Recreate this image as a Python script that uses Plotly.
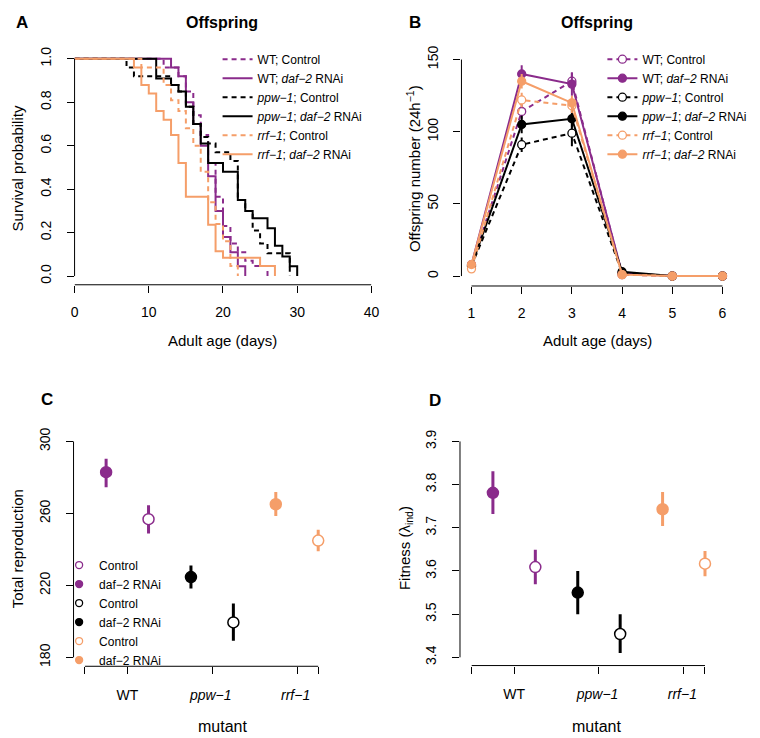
import plotly.graph_objects as go

W, H = 760, 738

# ---------------- Panel A: Kaplan-Meier survival (adult age in days, survival probability)
wt_ctrl_t = [0, 12, 14, 15, 16, 17, 18, 19, 20, 21, 22, 23, 24, 26]
wt_ctrl_s = [1.0, 0.96, 0.92, 0.85, 0.74, 0.65, 0.52, 0.365, 0.23, 0.15, 0.11, 0.07, 0.046, 0.0]
wt_daf_t = [0, 13, 14, 15, 16, 17, 18, 19, 20, 21, 22, 23]
wt_daf_s = [1.0, 0.96, 0.92, 0.80, 0.70, 0.60, 0.46, 0.30, 0.18, 0.11, 0.045, 0.0]
ppw_ctrl_t = [0, 7, 8, 13, 14, 15, 16, 17, 18, 19, 21, 22, 23, 24, 25, 26, 29]
ppw_ctrl_s = [1.0, 0.96, 0.92, 0.88, 0.85, 0.78, 0.70, 0.64, 0.61, 0.57, 0.53, 0.35, 0.30, 0.21, 0.15, 0.105, 0.0]
ppw_daf_t = [0, 11, 13, 14, 15, 16, 17, 18, 20, 22, 23, 24, 26, 27, 28, 29, 30]
ppw_daf_s = [1.0, 0.91, 0.88, 0.85, 0.78, 0.70, 0.61, 0.52, 0.48, 0.35, 0.30, 0.266, 0.22, 0.14, 0.09, 0.045, 0.0]
rrf_ctrl_t = [0, 9, 12, 13, 14, 15, 16, 17, 18, 19, 20, 21, 22]
rrf_ctrl_s = [1.0, 0.96, 0.88, 0.81, 0.76, 0.68, 0.60, 0.48, 0.34, 0.24, 0.16, 0.046, 0.0]
rrf_daf_t = [0, 8, 9, 10, 11, 12, 13, 14, 15, 18, 19, 20, 25, 27]
rrf_daf_s = [1.0, 0.96, 0.88, 0.84, 0.76, 0.72, 0.65, 0.52, 0.365, 0.236, 0.114, 0.084, 0.046, 0.0]

# ---------------- Panel B: offspring per day
days = [1, 2, 3, 4, 5, 6]
off_wt_ctrl = [7, 114, 135, 1, 0, 0]
off_wt_daf = [8, 140, 133, 2, 0, 0]
off_ppw_ctrl = [7, 91, 99, 2, 0, 0]
off_ppw_daf = [7, 105, 109, 3, 0, 0]
off_rrf_ctrl = [5, 122, 118, 1, 0, 0]
off_rrf_daf = [8, 135, 120, 1, 0, 0]
se_wt_ctrl = [1, 5, 6, 0.5, 0, 0]
se_wt_daf = [1, 6, 8, 0.5, 0, 0]
se_ppw_ctrl = [1, 5, 9, 0.5, 0, 0]
se_ppw_daf = [1, 6, 6, 0.5, 0, 0]
se_rrf_ctrl = [1, 5, 5, 0.5, 0, 0]
se_rrf_daf = [1, 5, 5, 0.5, 0, 0]

# ---------------- Panels C & D: totals per genotype
genotypes = ["WT", "<i>ppw−1</i>\u2009", "<i>rrf−1</i>\u2009"]
repro_daf = [282.9, 224.6, 265.1]
repro_daf_lo = [274.6, 218.2, 258.6]
repro_daf_hi = [290.4, 231.1, 271.9]
repro_ctrl = [256.8, 199.4, 244.9]
repro_ctrl_lo = [248.9, 189.2, 239.0]
repro_ctrl_hi = [264.5, 209.9, 250.9]
fit_daf = [3.781, 3.550, 3.743]
fit_daf_lo = [3.732, 3.500, 3.704]
fit_daf_hi = [3.831, 3.600, 3.783]
fit_ctrl = [3.609, 3.454, 3.617]
fit_ctrl_lo = [3.569, 3.410, 3.588]
fit_ctrl_hi = [3.649, 3.500, 3.646]

# tick values
a_xticks = [0, 10, 20, 30, 40]
a_yticks = [0, 0.2, 0.4, 0.6, 0.8, 1.0]
b_xticks = [1, 2, 3, 4, 5, 6]
b_yticks = [0, 50, 100, 150]
cd_xticks = [1, 2, 3]
cd_xends = [0.5, 3.25]
c_yticks = [180, 220, 260, 300]
d_yticks = [3.4, 3.5, 3.6, 3.7, 3.8, 3.9]

PURPLE = "#8A2B8B"
ORANGE = "#F59E69"
BLACK = "#000000"
COLORS = [PURPLE, BLACK, ORANGE]
FONT = "Liberation Sans, Arial, Helvetica, sans-serif"
DASH = "5px,4px"


def xdom(v0, p0, v1, p1, lo, hi):
    s = (p1 - p0) / (v1 - v0)
    return [(p0 + (lo - v0) * s) / W, (p0 + (hi - v0) * s) / W]


def ydom(v0, p0, v1, p1, lo, hi):
    s = (p1 - p0) / (v1 - v0)
    return [1 - (p0 + (lo - v0) * s) / H, 1 - (p0 + (hi - v0) * s) / H]


fig = go.Figure()

# ---- Panel A traces
surv = [
    ("WT; Control", wt_ctrl_t, wt_ctrl_s, PURPLE, DASH),
    ("WT; <i>daf−2</i> RNAi", wt_daf_t, wt_daf_s, PURPLE, "solid"),
    ("<i>ppw−1</i>; Control", ppw_ctrl_t, ppw_ctrl_s, BLACK, DASH),
    ("<i>ppw−1</i>; <i>daf−2</i> RNAi", ppw_daf_t, ppw_daf_s, BLACK, "solid"),
    ("<i>rrf−1</i>; Control", rrf_ctrl_t, rrf_ctrl_s, ORANGE, DASH),
    ("<i>rrf−1</i>; <i>daf−2</i> RNAi", rrf_daf_t, rrf_daf_s, ORANGE, "solid"),
]
for name, t, s, c, d in surv:
    fig.add_trace(go.Scatter(x=t, y=s, mode="lines", name=name, line=dict(color=c, width=2, dash=d, shape="hv"),
                             xaxis="x", yaxis="y", legend="legend"))

# ---- Panel B traces
offs = [
    ("WT; Control", off_wt_ctrl, se_wt_ctrl, PURPLE, DASH, False),
    ("WT; <i>daf−2</i> RNAi", off_wt_daf, se_wt_daf, PURPLE, "solid", True),
    ("<i>ppw−1</i>; Control", off_ppw_ctrl, se_ppw_ctrl, BLACK, DASH, False),
    ("<i>ppw−1</i>; <i>daf−2</i> RNAi", off_ppw_daf, se_ppw_daf, BLACK, "solid", True),
    ("<i>rrf−1</i>; Control", off_rrf_ctrl, se_rrf_ctrl, ORANGE, DASH, False),
    ("<i>rrf−1</i>; <i>daf−2</i> RNAi", off_rrf_daf, se_rrf_daf, ORANGE, "solid", True),
]
for name, y, se, c, d, filled in offs:
    fig.add_trace(go.Scatter(
        x=days, y=y, mode="lines+markers", name=name,
        line=dict(color=c, width=2, dash=d),
        marker=dict(size=8, color=c if filled else "white", line=dict(color=c, width=1.3)),
        error_y=dict(type="data", array=se, color=c, thickness=2, width=0),
        xaxis="x2", yaxis="y2", legend="legend2", cliponaxis=False))


# ---- Panels C & D traces
def dodge(i, treat):
    return i + 1 + (-0.25 if treat == "daf" else 0.25)


for (xa, ya), series in [
    (("x3", "y3"), [("daf", repro_daf, repro_daf_lo, repro_daf_hi), ("ctrl", repro_ctrl, repro_ctrl_lo, repro_ctrl_hi)]),
    (("x4", "y4"), [("daf", fit_daf, fit_daf_lo, fit_daf_hi), ("ctrl", fit_ctrl, fit_ctrl_lo, fit_ctrl_hi)]),
]:
    for i, c in enumerate(COLORS):
        for treat, m, lo, hi in series:
            fig.add_trace(go.Scatter(
                x=[dodge(i, treat)], y=[m[i]], mode="markers", showlegend=False,
                marker=dict(size=11, color=c if treat == "daf" else "white", line=dict(color=c, width=1.5)),
                error_y=dict(type="data", symmetric=False, array=[hi[i] - m[i]], arrayminus=[m[i] - lo[i]],
                             color=c, thickness=3, width=0),
                xaxis=xa, yaxis=ya, cliponaxis=False))

# legend entries for panel C
for c in COLORS:
    for treat, label in [("ctrl", "Control"), ("daf", "daf−2 RNAi")]:
        fig.add_trace(go.Scatter(
            x=[None], y=[None], mode="markers", name=label, legend="legend3",
            marker=dict(size=7, color=c if treat == "daf" else "white", line=dict(color=c, width=1.3)),
            xaxis="x3", yaxis="y3"))

axis_common = dict(showgrid=False, zeroline=False, showline=False, ticks="outside", ticklen=7,
                   tickwidth=1, tickcolor="black", tickfont=dict(size=14, family=FONT, color="black"))
minor_ends = dict(tickvals=cd_xends, ticks="outside", ticklen=7, tickwidth=1, tickcolor="black", showgrid=False)
XSO, YSO = 7, 10

fig.update_layout(
    width=W, height=H, margin=dict(l=0, r=0, t=0, b=0),
    paper_bgcolor="white", plot_bgcolor="white",
    font=dict(family=FONT, size=14, color="black"),
    xaxis=dict(domain=xdom(0, 71.7, 40, 373.3, 0, 40), range=[0, 40], anchor="y",
               tickvals=a_xticks, ticklabelstandoff=XSO, **axis_common),
    yaxis=dict(domain=ydom(0, 273.3, 1, 54.3, -0.04, 1.04), range=[-0.04, 1.04], anchor="x",
               tickvals=a_yticks, tickformat=".1f", tickangle=-90, ticklabelstandoff=YSO, **axis_common),
    xaxis2=dict(domain=xdom(1, 475, 6, 730, 0.8, 6.2), range=[0.8, 6.2], anchor="y2",
                tickvals=b_xticks, ticklabelstandoff=XSO, **axis_common),
    yaxis2=dict(domain=ydom(0, 273.3, 150, 55, -6.87, 160), range=[-6.87, 160], anchor="x2",
                tickvals=b_yticks, tickangle=-90, ticklabelstandoff=YSO, **axis_common),
    xaxis3=dict(domain=xdom(1, 125.3, 3, 297.7, 0.366, 3.4), range=[0.366, 3.4], anchor="y3",
                tickvals=cd_xticks, ticktext=genotypes, ticklabelstandoff=XSO + 2, minor=minor_ends, **axis_common),
    yaxis3=dict(domain=ydom(180, 657.7, 300, 440, 175.04, 305), range=[175.04, 305], anchor="x3",
                tickvals=c_yticks, tickangle=-90, ticklabelstandoff=YSO, **axis_common),
    xaxis4=dict(domain=xdom(1, 518.3, 3, 690.7, 0.362, 3.4), range=[0.362, 3.4], anchor="y4",
                tickvals=cd_xticks, ticktext=genotypes, ticklabelstandoff=XSO + 2, minor=minor_ends, **axis_common),
    yaxis4=dict(domain=ydom(3.4, 657.7, 3.9, 440, 3.381, 3.92), range=[3.381, 3.92], anchor="x4",
                tickvals=d_yticks, tickformat=".1f", tickangle=-90, ticklabelstandoff=YSO, **axis_common),
    legend=dict(x=217 / W, y=1 - 40 / H, xanchor="left", yanchor="top", bgcolor="rgba(0,0,0,0)",
                font=dict(size=12), tracegroupgap=0, itemwidth=30),
    legend2=dict(x=608 / W, y=1 - 40 / H, xanchor="left", yanchor="top", bgcolor="rgba(0,0,0,0)",
                 font=dict(size=12), tracegroupgap=0, itemwidth=30),
    legend3=dict(x=56 / W, y=1 - 550 / H, xanchor="left", yanchor="top", bgcolor="rgba(0,0,0,0)",
                 font=dict(size=12), tracegroupgap=0, itemwidth=30),
)

# R-style detached axis lines spanning first to last tick
line = dict(color="black", width=1)
shapes = []
for xa, ya, xt, yt in [("x", "y", a_xticks, a_yticks), ("x2", "y2", b_xticks, b_yticks),
                       ("x3", "y3", cd_xends, c_yticks), ("x4", "y4", cd_xends, d_yticks)]:
    shapes.append(dict(type="line", xref=xa, yref=ya + " domain", x0=min(xt), x1=max(xt), y0=0, y1=0, line=line))
    shapes.append(dict(type="line", xref=xa + " domain", yref=ya, x0=0, x1=0, y0=min(yt), y1=max(yt), line=line))
fig.update_layout(shapes=shapes)


def ann(text, x, y, size=15, bold=False, angle=0):
    if bold:
        text = "<b>" + text + "</b>"
    fig.add_annotation(text=text, x=x / W, y=1 - y / H, xref="paper", yref="paper", showarrow=False,
                       xanchor="center", yanchor="middle", textangle=angle,
                       font=dict(size=size, family=FONT, color="black"))


ann("A", 18, 18, 17, True)
ann("B", 418, 18, 17, True)
ann("C", 44, 398, 17, True)
ann("D", 438, 399, 17, True)
ann("Offspring", 222, 18, 16, True)
ann("Offspring", 603, 18, 16, True)
ann("Survival probability", 14, 165, 15, angle=-90)
ann("Adult age (days)", 222, 338, 15)
ann("Offspring number (24h<sup>−1</sup>)", 416, 165, 15, angle=-90)
ann("Adult age (days)", 603, 338, 15)
ann("Total reproduction", 14, 548, 15, angle=-90)
ann("mutant", 222, 727, 16)
ann("Fitness (λ<sub>ind</sub>)", 408, 548, 15, angle=-90)
ann("mutant", 602, 727, 16)

fig.write_html("out.html", config={"displayModeBar": False},
               post_script="document.body.style.margin='0';document.body.style.overflow='hidden';")
